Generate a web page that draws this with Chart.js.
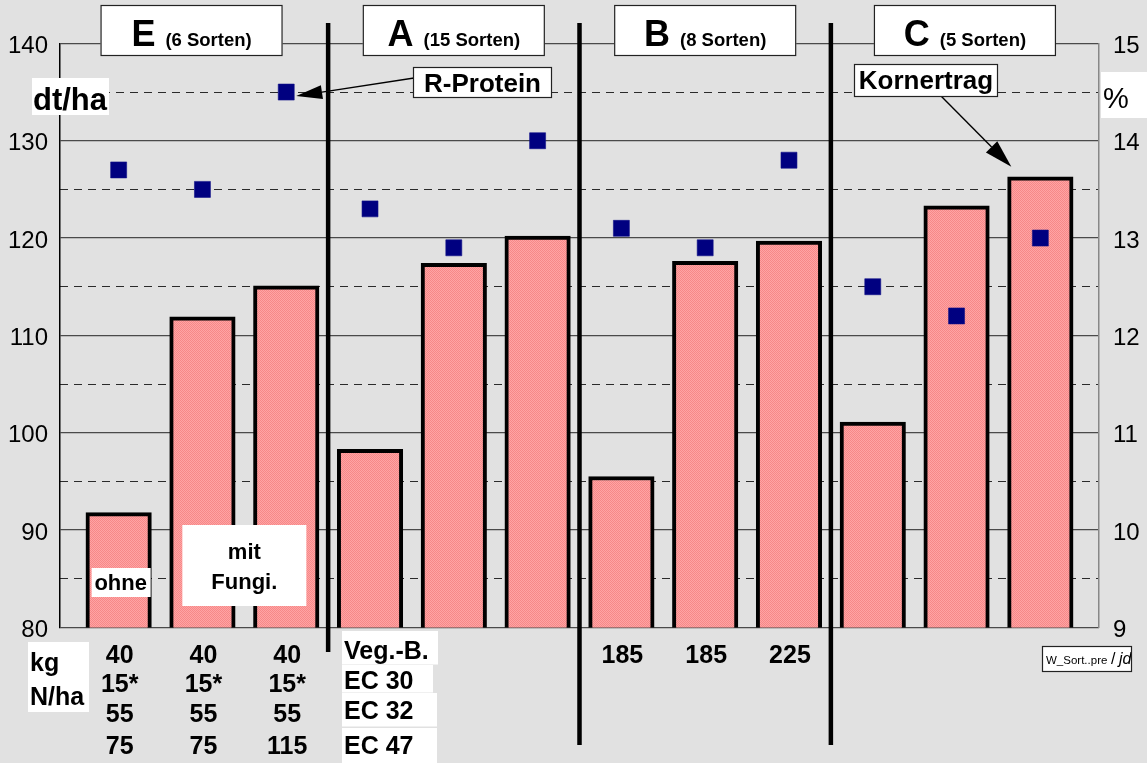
<!DOCTYPE html>
<html>
<head>
<meta charset="utf-8">
<script src="https://cdn.jsdelivr.net/npm/chart.js@4.4.1/dist/chart.umd.min.js"></script>
<style>
  html, body { margin: 0; padding: 0; background: #e1e1e1; overflow: hidden; }
  canvas { display: block; }
</style>
</head>
<body>
<canvas id="c" width="1147" height="763"></canvas>
<script>
// Kornertrag (dt/ha) and R-Protein (%) per variant
const categories = ['E ohne', 'E mit Fungi. 75', 'E mit Fungi. 115',
                    'A 1', 'A 2', 'A 3',
                    'B 185', 'B 185', 'B 225',
                    'C 1', 'C 2', 'C 3'];
const kornertrag = [91.8, 111.9, 115.1, 98.3, 117.4, 120.2, 95.5, 117.6, 119.7, 101.1, 123.3, 126.3];
const rProtein   = [13.7, 13.5, 14.5, 13.3, 12.9, 14.0, 13.1, 12.9, 13.8, 12.5, 12.2, 13.0];

// axis ranges
const yieldRange   = [80, 140];
const proteinRange = [9, 15];

// group headers
const groupLetters = ['E', 'A', 'B', 'C'];
const groupNotes   = ['(6 Sorten)', '(15 Sorten)', '(8 Sorten)', '(5 Sorten)'];
const groupCenters = [0.87, 4.0, 7.0, 10.1];

// N rates (kg N/ha) under each bar
const nRates = [
  ['40', '15*', '55', '75'],
  ['40', '15*', '55', '75'],
  ['40', '15*', '55', '115'],
  [], [], [],
  ['185'], ['185'], ['225'],
  [], [], []
];
const vegStages = ['Veg.-B.', 'EC 30', 'EC 32', 'EC 47'];

const FONT = '"Liberation Sans", Arial, Helvetica, sans-serif';

const canvas = document.getElementById('c');
const ctx0 = canvas.getContext('2d');

// fine stipple fill for the bars
function stipple() {
  const c = document.createElement('canvas');
  c.width = 2; c.height = 2;
  const g = c.getContext('2d');
  g.fillStyle = '#ffa4a4'; g.fillRect(0, 0, 2, 2);
  g.fillStyle = '#f68888'; g.fillRect(0, 0, 1, 1); g.fillRect(1, 1, 1, 1);
  return ctx0.createPattern(c, 'repeat');
}

const background = {
  id: 'background',
  beforeDraw(chart) {
    const c = chart.ctx;
    c.save();
    c.fillStyle = '#e1e1e1';
    c.fillRect(0, 0, chart.width, chart.height);
    c.restore();
  }
};

function whiteBox(c, x, y, w, h, stroke) {
  c.fillStyle = '#ffffff';
  c.fillRect(x, y, w, h);
  if (stroke) {
    c.strokeStyle = '#222';
    c.lineWidth = 1.2;
    c.strokeRect(x + 0.5, y + 0.5, w - 1, h - 1);
  }
}

function arrow(c, x1, y1, x2, y2, len, half) {
  const a = Math.atan2(y2 - y1, x2 - x1);
  const bx = x2 - len * Math.cos(a), by = y2 - len * Math.sin(a);
  c.strokeStyle = '#000';
  c.lineWidth = 1.4;
  c.beginPath(); c.moveTo(x1, y1); c.lineTo(bx, by); c.stroke();
  c.fillStyle = '#000';
  c.beginPath();
  c.moveTo(x2, y2);
  c.lineTo(bx + half * Math.sin(a), by - half * Math.cos(a));
  c.lineTo(bx - half * Math.sin(a), by + half * Math.cos(a));
  c.closePath(); c.fill();
}

const overlay = {
  id: 'overlay',
  afterDraw(chart) {
    const c = chart.ctx;
    const { x, y, y1 } = chart.scales;
    c.save();

    // group separators
    c.fillStyle = '#000';
    [[2.5, 652], [5.5, 745], [8.5, 745]].forEach(([v, end]) => {
      const px = x.getPixelForValue(v);
      c.fillRect(px - 2.25, 23, 4.5, end - 23);
    });

    // group header boxes
    groupLetters.forEach((L, i) => {
      const cx = x.getPixelForValue(groupCenters[i]);
      whiteBox(c, cx - 91, 5, 182, 51, true);
      c.fillStyle = '#000';
      c.textBaseline = 'alphabetic';
      c.font = 'bold 36px ' + FONT;
      const w1 = c.measureText(L).width;
      c.font = 'bold 18.5px ' + FONT;
      const w2 = c.measureText(groupNotes[i]).width;
      const gap = 10;
      const start = cx - (w1 + gap + w2) / 2;
      c.font = 'bold 36px ' + FONT;
      c.textAlign = 'left';
      c.fillText(L, start, 46);
      c.font = 'bold 18.5px ' + FONT;
      c.fillText(groupNotes[i], start + w1 + gap, 46);
    });

    // series labels with arrows
    const p3x = x.getPixelForValue(2), p3y = y1.getPixelForValue(rProtein[2]);
    arrow(c, 414, 78, p3x + 10, p3y + 4, 26, 7);
    whiteBox(c, 413, 67, 139, 31, true);
    c.fillStyle = '#000';
    c.font = 'bold 26px ' + FONT;
    c.textAlign = 'center';
    c.fillText('R-Protein', 482.5, 92);

    const b12x = x.getPixelForValue(11), b12y = y.getPixelForValue(kornertrag[11]);
    arrow(c, 941, 96, b12x - 29, b12y - 10, 28, 8);
    whiteBox(c, 854, 64, 144, 33, true);
    c.fillStyle = '#000';
    c.font = 'bold 26px ' + FONT;
    c.fillText('Kornertrag', 926, 89);

    // axis units
    whiteBox(c, 32, 78, 77, 37, false);
    c.fillStyle = '#000';
    c.textAlign = 'left';
    c.font = 'bold 31px ' + FONT;
    c.fillText('dt/ha', 33, 110);
    whiteBox(c, 1101, 72, 46, 46, false);
    c.fillStyle = '#000';
    c.font = '29px ' + FONT;
    c.fillText('%', 1103, 108);

    // treatment notes inside the E group
    const b1 = x.getPixelForValue(0);
    whiteBox(c, b1 - 27, 568, 59, 29, false);
    c.fillStyle = '#000';
    c.textAlign = 'center';
    c.textBaseline = 'middle';
    c.font = 'bold 22px ' + FONT;
    c.fillText('ohne', b1 + 2, 584);
    const mid = (x.getPixelForValue(1) + x.getPixelForValue(2)) / 2;
    whiteBox(c, mid - 62, 525, 124, 81, false);
    c.fillStyle = '#000';
    c.fillText('mit', mid, 553);
    c.fillText('Fungi.', mid, 583);

    // N rates below the axis
    whiteBox(c, 28, 642, 61, 70, false);
    c.fillStyle = '#000';
    c.textAlign = 'left';
    c.font = 'bold 25px ' + FONT;
    c.fillText('kg', 30, 664);
    c.fillText('N/ha', 30, 698);

    const rows = [656, 685, 715, 747];
    c.textAlign = 'center';
    nRates.forEach((list, i) => {
      const px = x.getPixelForValue(i);
      list.forEach((t, r) => c.fillText(t, px + 1, rows[r]));
    });

    // application timing for group A
    const vx = x.getPixelForValue(3) - 28;
    const vTop = [631, 665, 693, 728];
    const vBot = [665, 693, 727, 763];
    const vW = [96, 91, 95, 95];
    const vMid = [652, 682, 712, 747];
    vegStages.forEach((t, r) => {
      whiteBox(c, vx, vTop[r], vW[r], vBot[r] - vTop[r] - (r < 3 ? 0.5 : 0), false);
    });
    c.fillStyle = '#000';
    c.textAlign = 'left';
    vegStages.forEach((t, r) => c.fillText(t, vx + 2, vMid[r]));

    // file tag
    whiteBox(c, 1042, 646, 90, 26, true);
    c.save();
    c.beginPath(); c.rect(1043, 647, 88, 24); c.clip();
    c.fillStyle = '#000';
    c.textBaseline = 'alphabetic';
    c.font = '11.5px ' + FONT;
    c.fillText('W_Sort..pre', 1046, 664);
    c.font = '16px ' + FONT;
    c.fillText('/', 1111, 664);
    c.font = 'italic 16px ' + FONT;
    c.fillText('jd', 1119, 664);
    c.restore();

    c.restore();
  }
};

new Chart(canvas, {
  type: 'bar',
  data: {
    labels: categories,
    datasets: [
      {
        type: 'line',
        label: 'R-Protein',
        data: rProtein.map((v, i) => ({ x: i, y: v })),
        yAxisID: 'y1',
        showLine: false,
        pointStyle: 'rect',
        pointRadius: 11.3,
        pointHoverRadius: 11.3,
        pointBackgroundColor: '#000080',
        pointBorderColor: '#101088',
        pointBorderWidth: 0.6,
        order: 1
      },
      {
        type: 'bar',
        label: 'Kornertrag',
        data: kornertrag.map((v, i) => ({ x: i, y: v })),
        yAxisID: 'y',
        backgroundColor: stipple(),
        borderColor: '#000',
        borderWidth: 4,
        borderSkipped: false,
        barThickness: 65.5,
        order: 2
      }
    ]
  },
  options: {
    responsive: false,
    animation: false,
    events: [],
    layout: { padding: { top: 43.4, left: 0, right: 0, bottom: 0 } },
    plugins: { legend: { display: false }, tooltip: { enabled: false } },
    scales: {
      x: {
        type: 'linear',
        min: -0.7,
        max: 11.7,
        offset: false,
        ticks: { display: false, stepSize: 1 },
        grid: { display: false, offset: false },
        border: { display: false },
        afterFit(s) { s.height = 135.6; }
      },
      y: {
        position: 'left',
        min: yieldRange[0],
        max: yieldRange[1],
        ticks: {
          stepSize: 10,
          padding: 12,
          labelOffset: 3,
          color: '#000',
          font: { family: FONT, size: 24 }
        },
        grid: { color: '#4a4a4a', lineWidth: 1.3, drawTicks: false },
        border: { color: '#000', width: 1.5 },
        afterFit(s) { s.width = 60; }
      },
      yMinor: {
        position: 'left',
        min: yieldRange[0],
        max: yieldRange[1],
        ticks: { display: false, stepSize: 5 },
        grid: {
          color: (c) => (c.tick && c.tick.value % 10 === 0) ? 'rgba(0,0,0,0)' : '#2a2a2a',
          lineWidth: 1,
          drawTicks: false
        },
        border: { display: false, dash: [8, 6] },
        afterFit(s) { s.width = 0; }
      },
      y1: {
        position: 'right',
        min: proteinRange[0],
        max: proteinRange[1],
        ticks: {
          stepSize: 1,
          padding: 14,
          labelOffset: 3,
          color: '#000',
          font: { family: FONT, size: 24 }
        },
        grid: { drawOnChartArea: false, drawTicks: false },
        border: { color: '#888', width: 1.5 },
        afterFit(s) { s.width = 48; }
      }
    }
  },
  plugins: [background, overlay]
});
</script>
</body>
</html>
